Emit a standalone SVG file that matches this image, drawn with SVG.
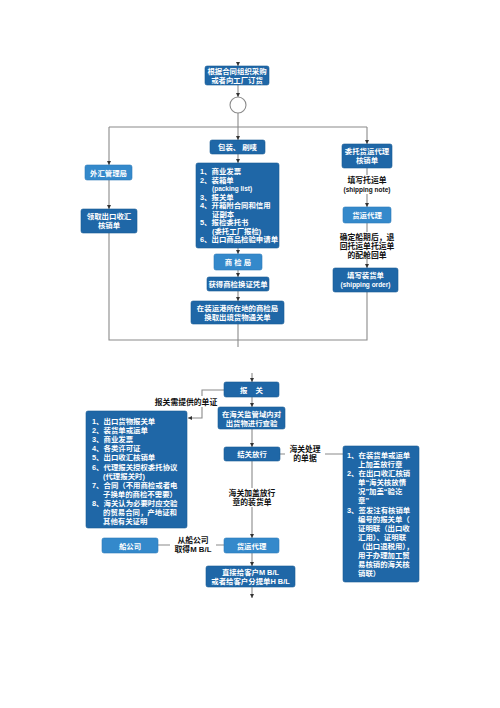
<svg xmlns="http://www.w3.org/2000/svg" width="500" height="708" viewBox="0 0 500 708">
<defs>
<marker id="arr" viewBox="0 0 6 6" refX="6" refY="3" markerWidth="4" markerHeight="4" orient="auto" markerUnits="userSpaceOnUse">
<path d="M0,0 L6,3 L0,6 z" fill="#333"/>
</marker>
<style>
.dk{fill:#1f67a7;stroke:#1a5a94;stroke-width:0.6}
.lt{fill:#3489cb;stroke:#2c7bb8;stroke-width:0.6}
.t{font-family:"Liberation Sans","Noto Sans CJK SC",sans-serif;font-size:7.4px;font-weight:bold;fill:#fff}
.c{text-anchor:middle}
.lb{font-family:"Liberation Sans","Noto Sans CJK SC",sans-serif;font-size:7.8px;font-weight:bold;fill:#111;text-anchor:middle}
.ln{stroke:#8a8a8a;stroke-width:1.1;fill:none}
.la{stroke:#8a8a8a;stroke-width:1.1;fill:none;marker-end:url(#arr)}
.bg{fill:#fff}
.sm{font-size:6.5px}
</style>
</defs>
<rect width="500" height="708" fill="#fff"/>

<g id="connectors">
<line class="la" x1="238" y1="62" x2="238" y2="66"/>
<line class="la" x1="238" y1="85" x2="238" y2="97"/>
<line class="la" x1="238" y1="113" x2="238" y2="140"/>
<line class="ln" x1="109" y1="127" x2="367" y2="127"/>
<line class="la" x1="109" y1="127" x2="109" y2="165"/>
<line class="la" x1="367" y1="127" x2="367" y2="144"/>
<line class="la" x1="109" y1="180" x2="109" y2="209"/>
<polyline class="ln" points="109,233 109,340 367,340 367,292"/>
<line class="la" x1="238" y1="154" x2="238" y2="163"/>
<line class="la" x1="238" y1="248" x2="238" y2="254"/>
<line class="la" x1="238" y1="270" x2="238" y2="277"/>
<line class="la" x1="238" y1="291" x2="238" y2="301"/>
<line class="ln" x1="238" y1="324" x2="238" y2="347"/>
<line class="la" x1="367" y1="168" x2="367" y2="207"/>
<line class="la" x1="367" y1="223" x2="367" y2="268"/>

<line class="la" x1="252" y1="373" x2="252" y2="382"/>
<line class="la" x1="252" y1="397" x2="252" y2="407"/>
<line class="la" x1="252" y1="429" x2="252" y2="447"/>
<line class="la" x1="252" y1="461" x2="252" y2="538"/>
<line class="la" x1="252" y1="553" x2="252" y2="566"/>
<line class="la" x1="252" y1="587" x2="252" y2="598"/>
<polyline class="la" points="224,390 202,390 202,418 188,418"/>
<line class="ln" x1="280" y1="454" x2="343" y2="454"/>
<line class="ln" x1="158" y1="545" x2="224" y2="545"/>

<rect class="bg" x="334" y="175" width="66" height="19"/>
<text class="lb" x="367" y="183">填写托运单<tspan class="sm" x="367" dy="9">(shipping note)</tspan></text>
<rect class="bg" x="335" y="232" width="64" height="27"/>
<text class="lb" x="367" y="240">确定船期后，退<tspan x="367" dy="9">回托运单托运单</tspan><tspan x="367" dy="9">的配舱回单</tspan></text>

<rect class="bg" x="154" y="396" width="64" height="11"/>
<text class="lb" x="186" y="405">报关需提供的单证</text>
<rect class="bg" x="285" y="443" width="40" height="20"/>
<text class="lb" x="305" y="452">海关处理<tspan x="305" dy="9">的单据</tspan></text>
<rect class="bg" x="224" y="488" width="56" height="19"/>
<text class="lb" x="252" y="496">海关加盖放行<tspan x="252" dy="9">章的装货单</tspan></text>
<rect class="bg" x="170" y="535" width="46" height="19"/>
<text class="lb" x="193" y="543">从船公司<tspan x="193" dy="9">取得M B/L</tspan></text>
</g>

<g id="n_top"><rect class="dk" x="205" y="66" width="64" height="19" rx="2"/>
<text class="t c" x="237" y="74">根据合同组织采购<tspan x="237" dy="8.5">或者向工厂订货</tspan></text></g>
<g id="n_circle"><circle cx="238" cy="105" r="8" fill="#fff" stroke="#8a8a8a" stroke-width="1.1"/></g>

<g id="n_waihui"><rect class="lt" x="85" y="165" width="47" height="15" rx="2"/>
<text class="t c" x="108.5" y="175.5">外汇管理局</text></g>
<g id="n_lingqu"><rect class="dk" x="81" y="209" width="56" height="24" rx="2"/>
<text class="t c" x="109" y="219">领取出口收汇<tspan x="109" dy="9">核销单</tspan></text></g>

<g id="n_baozhuang"><rect class="dk" x="210" y="140" width="55" height="14" rx="2"/>
<text class="t c" x="237.5" y="150">包装、 刷唛</text></g>
<g id="n_list1"><rect class="dk" x="196" y="163" width="83" height="85" rx="2"/>
<text class="t" x="200" y="174">1、商业发票<tspan x="200" dy="8.5">2、装箱单</tspan><tspan class="sm" x="212" dy="8.5">(packing list)</tspan><tspan x="200" dy="8.5">3、报关单</tspan><tspan x="200" dy="8.5">4、开箱附合同和信用</tspan><tspan x="212" dy="8.5">证副本</tspan><tspan x="200" dy="8.5">5、报检委托书</tspan><tspan x="212" dy="8.5">(委托工厂报检)</tspan><tspan x="200" dy="8.5">6、出口商品检验申请单</tspan></text></g>
<g id="n_shangjian"><rect class="lt" x="214" y="254" width="48" height="16" rx="2"/>
<text class="t c" x="238" y="265" xml:space="preserve">商 检 局</text></g>
<g id="n_huode"><rect class="dk" x="207" y="277" width="62" height="14" rx="2"/>
<text class="t c" x="238" y="287">获得商检换证凭单</text></g>
<g id="n_zaizhuang"><rect class="dk" x="191" y="301" width="93" height="23" rx="2"/>
<text class="t c" x="237.5" y="311">在装运港所在地的商检局<tspan x="237.5" dy="9">换取出境货物通关单</tspan></text></g>

<g id="n_weituo"><rect class="dk" x="342" y="144" width="50" height="24" rx="2"/>
<text class="t c" x="367" y="154">委托货运代理<tspan x="367" dy="9">核销单</tspan></text></g>
<g id="n_huoyun1"><rect class="lt" x="343" y="207" width="48" height="16" rx="2"/>
<text class="t c" x="367" y="218">货运代理</text></g>
<g id="n_zhuanghuo"><rect class="dk" x="333" y="268" width="65" height="24" rx="2"/>
<text class="t c" x="365.5" y="278">填写装货单<tspan class="sm" x="365.5" dy="9">(shipping order)</tspan></text></g>

<g id="n_baoguan"><rect class="dk" x="224" y="382" width="55" height="15" rx="2"/>
<text class="t c" x="251.5" y="392.5" xml:space="preserve">报    关</text></g>
<g id="n_chayan"><rect class="dk" x="218" y="407" width="67" height="22" rx="2"/>
<text class="t c" x="251.5" y="416.5">在海关监管域内对<tspan x="251.5" dy="9">出货物进行查验</tspan></text></g>
<g id="n_list2"><rect class="dk" x="86" y="411" width="101" height="117" rx="2"/>
<text class="t" x="92" y="424">1、出口货物报关单<tspan x="92" dy="9.1">2、装货单或运单</tspan><tspan x="92" dy="9.1">3、商业发票</tspan><tspan x="92" dy="9.1">4、各类许可证</tspan><tspan x="92" dy="9.1">5、出口收汇核销单</tspan><tspan x="92" dy="9.1">6、代理报关授权委托协议</tspan><tspan x="103" dy="9.1">(代理报关时)</tspan><tspan x="92" dy="9.1">7、合同（不用商检或者电</tspan><tspan x="103" dy="9.1">子换单的商检不需要）</tspan><tspan x="92" dy="9.1">8、海关认为必要时应交验</tspan><tspan x="103" dy="9.1">的贸易合同，产地证和</tspan><tspan x="103" dy="9.1">其他有关证明</tspan></text></g>
<g id="n_jieguan"><rect class="dk" x="224" y="447" width="56" height="14" rx="2"/>
<text class="t c" x="252" y="457">结关放行</text></g>
<g id="n_list3"><rect class="dk" x="343" y="446" width="76" height="136" rx="2"/>
<text class="t" x="347" y="458">1、在装货单或运单<tspan x="358" dy="9">上加盖放行章</tspan><tspan x="347" dy="9">2、在出口收汇核销</tspan><tspan x="358" dy="9">单“海关核放情</tspan><tspan x="358" dy="9">况”加盖“验讫</tspan><tspan x="358" dy="9">章”</tspan><tspan x="347" dy="9.5">3、签发注有核销单</tspan><tspan x="358" dy="9">编号的报关单（</tspan><tspan x="358" dy="9">证明联（出口收</tspan><tspan x="358" dy="9">汇用）、证明联</tspan><tspan x="358" dy="9">（出口退税用），</tspan><tspan x="358" dy="9">用于办理加工贸</tspan><tspan x="358" dy="9">易核销的海关核</tspan><tspan x="358" dy="9.5">销联）</tspan></text></g>
<g id="n_chuan"><rect class="lt" x="102" y="538" width="56" height="15" rx="2"/>
<text class="t c" x="130" y="548.5">船公司</text></g>
<g id="n_huoyun2"><rect class="lt" x="224" y="538" width="55" height="15" rx="2"/>
<text class="t c" x="251.5" y="548.5">货运代理</text></g>
<g id="n_final"><rect class="dk" x="206" y="566" width="89" height="21" rx="2"/>
<text class="t c" x="250.5" y="575">直接给客户M B/L<tspan x="250.5" dy="9">或者给客户分提单H B/L</tspan></text></g>
</svg>
